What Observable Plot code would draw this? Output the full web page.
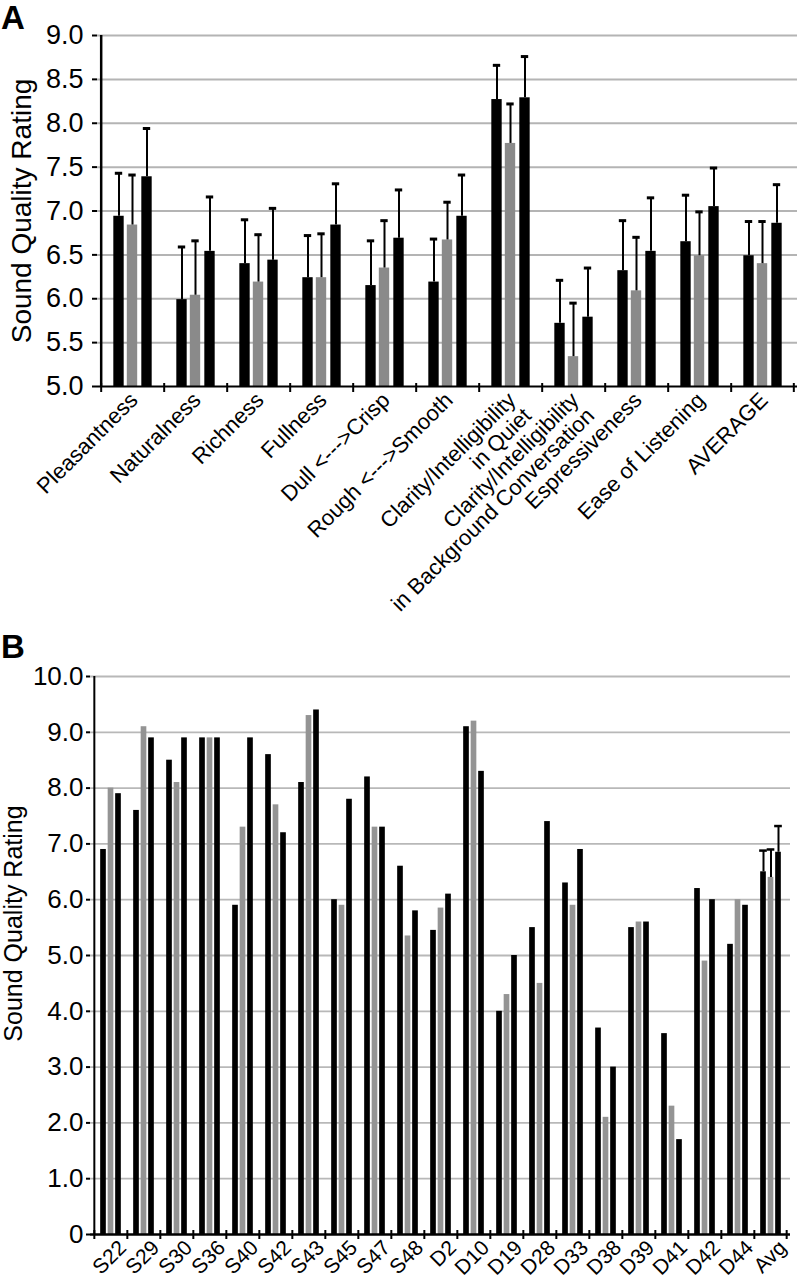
<!DOCTYPE html>
<html><head><meta charset="utf-8">
<script src="https://cdn.jsdelivr.net/npm/d3@7"></script>
<script src="https://cdn.jsdelivr.net/npm/@observablehq/plot@0.6"></script>
<style>
body{margin:0;background:#fff;font-family:"Liberation Sans",Arial,sans-serif;}
#wrap{position:relative;width:800px;height:1278px;overflow:hidden;}
.panel{position:absolute;left:0;}
.letter{position:absolute;font-weight:bold;font-size:33px;line-height:1;z-index:2;}
</style></head><body>
<div id="wrap">
 <div id="pa" class="panel" style="top:0"></div>
 <div id="pb" class="panel" style="top:640px"></div>
 <div class="letter" style="left:1px;top:1px">A</div>
 <div class="letter" style="left:1px;top:630px">B</div>
</div>
<script>
// ---------- Panel A data ----------
const attributes = ["Pleasantness","Naturalness","Richness","Fullness","Dull <--->Crisp","Rough <--->Smooth",
  "Clarity/Intelligibility\nin Quiet","Clarity/Intelligibility\nin Background Conversation",
  "Espressiveness","Ease of Listening","AVERAGE"];
const seriesNames = ["Series 1","Series 2","Series 3"];
const seriesColors = ["#000000","#8a8a8a","#000000"];
const meanA1 = [6.94,5.99,6.40,6.24,6.15,6.19,8.27,5.72,6.32,6.65,6.49];
const errA1  = [0.49,0.60,0.50,0.48,0.51,0.49,0.39,0.49,0.57,0.53,0.39];
const meanA2 = [6.84,6.04,6.19,6.24,6.35,6.67,7.77,5.34,6.09,6.49,6.40];
const errA2  = [0.57,0.62,0.54,0.50,0.54,0.43,0.45,0.61,0.61,0.50,0.48];
const meanA3 = [7.39,6.54,6.44,6.84,6.69,6.94,8.29,5.79,6.54,7.05,6.86];
const errA3  = [0.55,0.62,0.59,0.47,0.55,0.47,0.47,0.56,0.61,0.44,0.44];
const yTicksA = [5.0,5.5,6.0,6.5,7.0,7.5,8.0,8.5,9.0];

// ---------- Panel B data ----------
const subjects = ["S22","S29","S30","S36","S40","S42","S43","S45","S47","S48",
  "D2","D10","D19","D28","D33","D38","D39","D41","D42","D44","Avg"];
const valB1 = [6.9,7.6,8.5,8.9,5.9,8.6,8.1,6.0,8.2,6.6,5.45,9.1,4.0,5.5,6.3,3.7,5.5,3.6,6.2,5.2,6.5];
const valB2 = [8.0,9.1,8.1,8.9,7.3,7.7,9.3,5.9,7.3,5.35,5.85,9.2,4.3,4.5,5.9,2.1,5.6,2.3,4.9,6.0,6.4];
const valB3 = [7.9,8.9,8.9,8.9,8.9,7.2,9.4,7.8,7.3,5.8,6.1,8.3,5.0,7.4,6.9,3.0,5.6,1.7,6.0,5.9,6.85];
const errBAvg = [0.38,0.50,0.47]; // error bars on the "Avg" group only
const yTicksB = [0,1,2,3,4,5,6,7,8,9,10];
const yTitle = "Sound Quality Rating";

const font = "'Liberation Sans', Arial, sans-serif";

// ---------- build rows ----------
const rowsA = [];
[meanA1, meanA2, meanA3].forEach((arr, s) => arr.forEach((v, i) =>
  rowsA.push({cat: attributes[i], s, mean: v, err: [errA1, errA2, errA3][s][i]})));
const rowsB = [];
[valB1, valB2, valB3].forEach((arr, s) => arr.forEach((v, i) =>
  rowsB.push({cat: subjects[i], s, mean: v})));
const errRowsB = errBAvg.map((e, s) => ({cat: "Avg", s, mean: [valB1, valB2, valB3][s][subjects.indexOf("Avg")], err: e}));

// ---------- Panel A ----------
{
  const W = 800, H = 640, mt = 35, mb = 254, ml = 97, mr = 3;
  const bw = (W - ml - mr) / attributes.length;
  const frameH = H - mt - mb;
  const offs = [-14, -0.5, 14], barW = 11;
  const marks = [];
  marks.push(Plot.ruleY(yTicksA.slice(1), {stroke: "#b4b4b4", strokeWidth: 2}));
  seriesNames.forEach((name, s) => {
    const data = rowsA.filter(d => d.s === s);
    const il = bw / 2 + offs[s] - barW / 2;
    marks.push(Plot.barY(data, {x: "cat", y1: 5, y2: "mean", fill: seriesColors[s], insetLeft: il, insetRight: bw - il - barW}));
    marks.push(Plot.ruleX(data, {x: "cat", y1: "mean", y2: d => d.mean + d.err, dx: offs[s], stroke: "#000", strokeWidth: 2}));
    marks.push(Plot.tickY(data, {x: "cat", y: d => d.mean + d.err, stroke: "#000", strokeWidth: 3,
      insetLeft: bw / 2 + offs[s] - 4, insetRight: bw / 2 - offs[s] - 4}));
  });
  marks.push(Plot.ruleY([5], {stroke: "#000", strokeWidth: 2}));
  marks.push(Plot.ruleX([attributes[0]], {x: d => d, dx: -bw / 2, stroke: "#000", strokeWidth: 2.5}));
  marks.push(Plot.ruleX(attributes, {x: d => d, dx: -bw / 2, stroke: "#000", strokeWidth: 2, insetTop: frameH - 3, insetBottom: -6}));
  marks.push(Plot.ruleX([attributes[attributes.length - 1]], {x: d => d, dx: bw / 2 - 1, stroke: "#000", strokeWidth: 2, insetTop: frameH - 3, insetBottom: -6}));
  marks.push(Plot.axisY({ticks: yTicksA, tickFormat: d => d.toFixed(1), label: null, fontSize: 27, tickSize: 5, tickPadding: 9, strokeWidth: 2}));
  marks.push(Plot.text(attributes, {x: d => d, frameAnchor: "bottom", rotate: -45, textAnchor: "end", lineAnchor: "top", dx: -5, dy: 4, fontSize: 22}));
  marks.push(Plot.text([yTitle], {frameAnchor: "left", rotate: -90, textAnchor: "middle", lineAnchor: "middle", dx: -75, fontSize: 28}));
  const chart = Plot.plot({
    width: W, height: H, marginTop: mt, marginBottom: mb, marginLeft: ml, marginRight: mr,
    style: {fontFamily: font, color: "#000", background: "#fff", overflow: "visible"},
    x: {domain: attributes, padding: 0, axis: null},
    y: {domain: [5, 9], axis: null, label: null},
    marks
  });
  document.getElementById("pa").appendChild(chart);
}

// ---------- Panel B ----------
{
  const W = 800, H = 638, mt = 36, mb = 44, ml = 90, mr = 10;
  const bw = (W - ml - mr) / subjects.length;
  const frameH = H - mt - mb;
  const offs = [-7.5, 0, 7.5], barW = 6;
  const colorsB = ["#000000","#949494","#000000"];
  const marks = [];
  marks.push(Plot.ruleY(yTicksB.slice(1), {stroke: "#b8b8b8", strokeWidth: 1.8}));
  seriesNames.forEach((name, s) => {
    const data = rowsB.filter(d => d.s === s);
    const il = bw / 2 + offs[s] - barW / 2;
    marks.push(Plot.barY(data, {x: "cat", y1: 0, y2: "mean", fill: colorsB[s], insetLeft: il, insetRight: bw - il - barW}));
    const ed = errRowsB.filter(d => d.s === s);
    marks.push(Plot.ruleX(ed, {x: "cat", y1: "mean", y2: d => d.mean + d.err, dx: offs[s], stroke: "#000", strokeWidth: 2}));
    marks.push(Plot.tickY(ed, {x: "cat", y: d => d.mean + d.err, stroke: "#000", strokeWidth: 2.5,
      insetLeft: bw / 2 + offs[s] - 4, insetRight: bw / 2 - offs[s] - 4}));
  });
  marks.push(Plot.ruleY([0], {stroke: "#000", strokeWidth: 2.5}));
  marks.push(Plot.ruleX([subjects[0]], {x: d => d, dx: -bw / 2, stroke: "#000", strokeWidth: 2}));
  marks.push(Plot.ruleX(subjects, {x: d => d, dx: -bw / 2, stroke: "#000", strokeWidth: 2, insetTop: frameH - 4, insetBottom: -5}));
  marks.push(Plot.ruleX([subjects[subjects.length - 1]], {x: d => d, dx: bw / 2 - 1, stroke: "#000", strokeWidth: 2, insetTop: frameH - 4, insetBottom: -5}));
  marks.push(Plot.axisY({ticks: yTicksB, tickFormat: d => d === 0 ? "0" : d.toFixed(1), label: null, fontSize: 26, tickSize: 4, tickPadding: 3, strokeWidth: 2}));
  marks.push(Plot.text(subjects, {x: d => d, frameAnchor: "bottom", rotate: -45, textAnchor: "end", lineAnchor: "top", dx: 6, dy: 4, fontSize: 21}));
  marks.push(Plot.text([yTitle], {frameAnchor: "left", rotate: -90, textAnchor: "middle", lineAnchor: "middle", dx: -77, dy: -32, fontSize: 25}));
  const chart = Plot.plot({
    width: W, height: H, marginTop: mt, marginBottom: mb, marginLeft: ml, marginRight: mr,
    style: {fontFamily: font, color: "#000", background: "#fff", overflow: "visible"},
    x: {domain: subjects, padding: 0, axis: null},
    y: {domain: [0, 10], axis: null, label: null},
    marks
  });
  document.getElementById("pb").appendChild(chart);
}
</script>
</body></html>
